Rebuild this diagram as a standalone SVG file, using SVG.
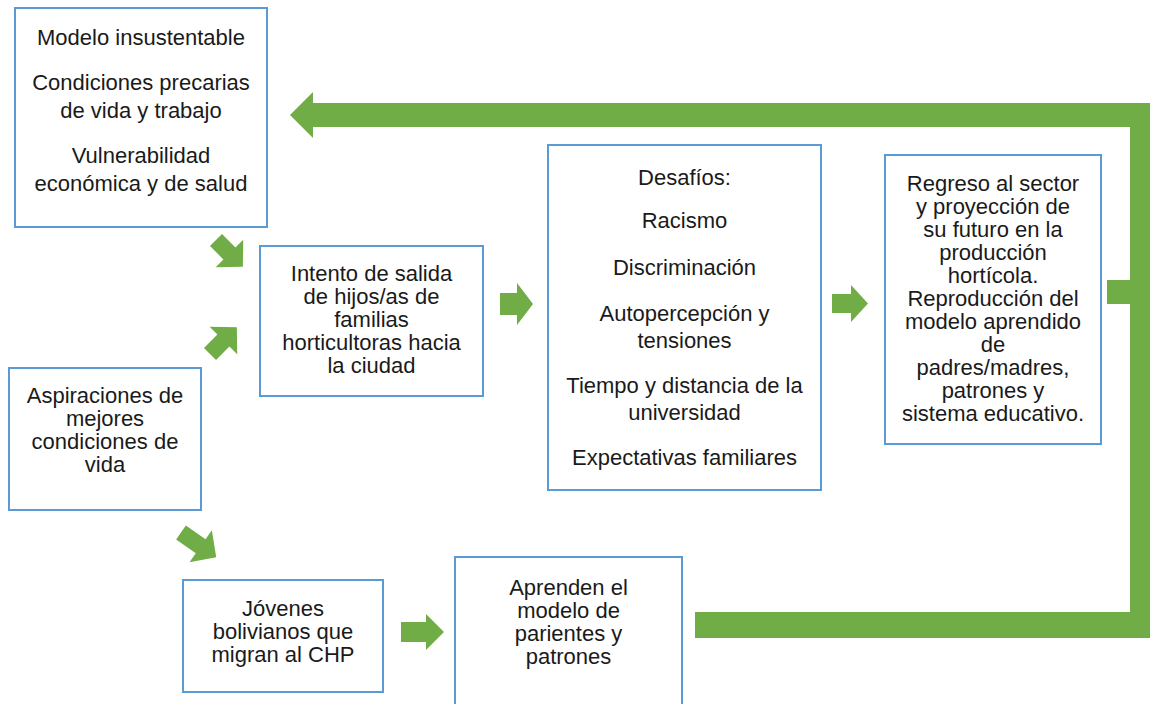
<svg xmlns="http://www.w3.org/2000/svg" width="1150" height="704" viewBox="0 0 1150 704">
<style>
.box{fill:#ffffff;stroke:#5b9bd5;stroke-width:2}
.t{font-family:"Liberation Sans",Arial,sans-serif;font-size:22px;fill:#1a1a1a;text-anchor:middle}
.g{fill:#70ad47}
</style>
<defs>
<path id="diag" d="M0,-8.5 H19 V-19.5 L38,0 L19,19.5 V8.5 H0 Z"/>
</defs>
<rect width="1150" height="704" fill="#ffffff"/>
<g id="connectors" class="g">
<path d="M290,115 L313,92 L313,103 L1150,103 L1150,638 L695,638 L695,612 L1130,612 L1130,304 L1107,304 L1107,280 L1130,280 L1130,127 L313,127 L313,138 Z"/>
<use href="#diag" transform="translate(216,240) rotate(45)"/>
<use href="#diag" transform="translate(210,354) rotate(-45)"/>
<path d="M0,-8.5 H24 V-19.5 L43,0 L24,19.5 V8.5 H0 Z" transform="translate(181,532.5) rotate(35)"/>
<path d="M500,293 H517 V283 L533,304 L517,325 V315 H500 Z"/>
<path d="M832,294 H851 V285 L868,303.5 L851,322 V313 H832 Z"/>
<path d="M401,622 H426 V614 L444,632 L426,650 V642 H401 Z"/>
</g>
<g id="modelo">
<rect class="box" x="15" y="8" width="252" height="219"/>
<text class="t" x="141" y="45">Modelo insustentable</text>
<text class="t" x="141" y="90">Condiciones precarias</text>
<text class="t" x="141" y="118">de vida y trabajo</text>
<text class="t" x="141" y="163">Vulnerabilidad</text>
<text class="t" x="141" y="191">económica y de salud</text>
</g>
<g id="intento">
<rect class="box" x="260" y="246" width="223" height="150"/>
<text class="t" x="371.5" y="281">Intento de salida</text>
<text class="t" x="371.5" y="304">de hijos/as de</text>
<text class="t" x="371.5" y="327">familias</text>
<text class="t" x="371.5" y="350">horticultoras hacia</text>
<text class="t" x="371.5" y="373">la ciudad</text>
</g>
<g id="desafios">
<rect class="box" x="548" y="145" width="273" height="345"/>
<text class="t" x="684.5" y="185">Desafíos:</text>
<text class="t" x="684.5" y="228">Racismo</text>
<text class="t" x="684.5" y="275">Discriminación</text>
<text class="t" x="684.5" y="321">Autopercepción y</text>
<text class="t" x="684.5" y="348">tensiones</text>
<text class="t" x="684.5" y="393">Tiempo y distancia de la</text>
<text class="t" x="684.5" y="420">universidad</text>
<text class="t" x="684.5" y="465">Expectativas familiares</text>
</g>
<g id="regreso">
<rect class="box" x="885" y="155" width="216" height="289"/>
<text class="t" x="993" y="191">Regreso al sector</text>
<text class="t" x="993" y="214">y proyección de</text>
<text class="t" x="993" y="237">su futuro en la</text>
<text class="t" x="993" y="260">producción</text>
<text class="t" x="993" y="283">hortícola.</text>
<text class="t" x="993" y="306">Reproducción del</text>
<text class="t" x="993" y="329">modelo aprendido</text>
<text class="t" x="993" y="352">de</text>
<text class="t" x="993" y="375">padres/madres,</text>
<text class="t" x="993" y="398">patrones y</text>
<text class="t" x="993" y="421">sistema educativo.</text>
</g>
<g id="aspiraciones">
<rect class="box" x="9" y="368" width="192" height="142"/>
<text class="t" x="105" y="403">Aspiraciones de</text>
<text class="t" x="105" y="426">mejores</text>
<text class="t" x="105" y="449">condiciones de</text>
<text class="t" x="105" y="472">vida</text>
</g>
<g id="jovenes">
<rect class="box" x="183" y="580" width="200" height="112"/>
<text class="t" x="283" y="616">Jóvenes</text>
<text class="t" x="283" y="639">bolivianos que</text>
<text class="t" x="283" y="662">migran al CHP</text>
</g>
<g id="aprenden">
<rect class="box" x="455" y="557" width="227" height="160"/>
<text class="t" x="568.5" y="595">Aprenden el</text>
<text class="t" x="568.5" y="618">modelo de</text>
<text class="t" x="568.5" y="641">parientes y</text>
<text class="t" x="568.5" y="664">patrones</text>
</g>
</svg>
